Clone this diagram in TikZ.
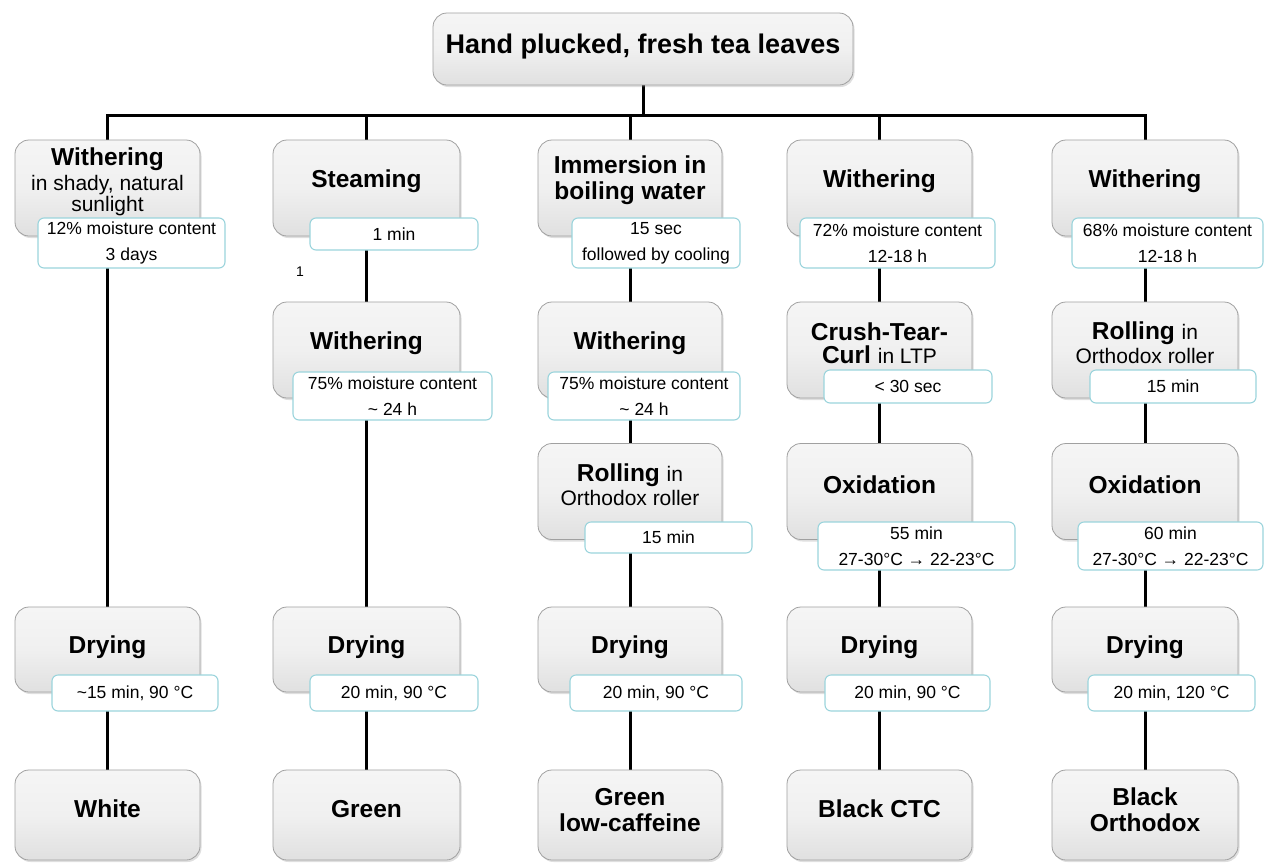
\documentclass[tikz,border=0pt]{standalone}
\usepackage{fontspec}
\setmainfont{Liberation Sans}
\usetikzlibrary{shadows,backgrounds}
\definecolor{boxborder}{RGB}{160,160,160}
\definecolor{boxtop}{RGB}{245,245,245}
\definecolor{boxmid}{RGB}{240,240,240}
\definecolor{boxbot}{RGB}{224,224,224}
\definecolor{lblborder}{RGB}{155,212,220}
\newcommand{\myrg}[1]{{\fontsize{21}{23}\selectfont\mdseries #1}}
\tikzset{
  mbox/.style={draw=boxborder, line width=0.8pt, rounded corners=14pt,
    top color=boxtop, bottom color=boxbot, middle color=boxmid,
    minimum width=185pt, minimum height=96pt, inner sep=0pt,
    drop shadow={shadow xshift=1.5pt, shadow yshift=-2pt, opacity=0.25}},
  ttl/.style={align=center, inner sep=0pt, font=\fontsize{24.5}{26}\selectfont\bfseries},
  lbox/.style={draw=lblborder, line width=1.1pt, fill=white, rounded corners=6pt,
    align=center, inner sep=0pt, font=\fontsize{17.5}{26}\selectfont},
  conn/.style={line width=3pt, black}
}
\begin{document}
\begin{tikzpicture}[x=1pt,y=-1pt]
\useasboundingbox (0,0) rectangle (1264,863);
% top
\node[mbox, minimum width=420pt, minimum height=72pt] (top) at (643,49) {};
\node[ttl, font=\fontsize{27}{29}\selectfont\bfseries] (ttop) at (643,47) {Hand plucked, fresh tea leaves};
\coordinate (hub) at (643,115);
% column 1
\node[mbox] (c1A) at (107.5,188) {};
\node[mbox, minimum height=85pt] (c1D) at (107.5,649.5) {};
\node[mbox, minimum height=90pt] (c1E) at (107.5,815) {};
% column 2
\node[mbox, minimum width=187pt] (c2A) at (366.5,188) {};
\node[mbox, minimum width=187pt] (c2B) at (366.5,350) {};
\node[mbox, minimum width=187pt, minimum height=85pt] (c2D) at (366.5,649.5) {};
\node[mbox, minimum width=187pt, minimum height=90pt] (c2E) at (366.5,815) {};
% column 3
\node[mbox, minimum width=184pt] (c3A) at (630,188) {};
\node[mbox, minimum width=184pt] (c3B) at (630,350) {};
\node[mbox, minimum width=184pt] (c3C) at (630,491.5) {};
\node[mbox, minimum width=184pt, minimum height=85pt] (c3D) at (630,649.5) {};
\node[mbox, minimum width=184pt, minimum height=90pt] (c3E) at (630,815) {};
% column 4
\node[mbox] (c4A) at (879.5,188) {};
\node[mbox] (c4B) at (879.5,350) {};
\node[mbox] (c4C) at (879.5,491.5) {};
\node[mbox, minimum height=85pt] (c4D) at (879.5,649.5) {};
\node[mbox, minimum height=90pt] (c4E) at (879.5,815) {};
% column 5
\node[mbox, minimum width=186pt] (c5A) at (1145,188) {};
\node[mbox, minimum width=186pt] (c5B) at (1145,350) {};
\node[mbox, minimum width=186pt] (c5C) at (1145,491.5) {};
\node[mbox, minimum width=186pt, minimum height=85pt] (c5D) at (1145,649.5) {};
\node[mbox, minimum width=186pt, minimum height=90pt] (c5E) at (1145,815) {};
% box texts
\node[ttl] (t1A) at (107.5,182) {Withering\\[-1pt]\myrg{in shady, natural}\\[-5pt]\myrg{sunlight}};
\node[ttl] (t1D) at (107.5,647) {Drying};
\node[ttl] (t1E) at (107.5,809) {White};
\node[ttl] (t2A) at (366.5,181) {Steaming};
\node[ttl] (t2B) at (366.5,343) {Withering};
\node[ttl] (t2D) at (366.5,647) {Drying};
\node[ttl] (t2E) at (366.5,809) {Green};
\node[ttl] (t3A) at (630,180) {Immersion in\\boiling water};
\node[ttl] (t3B) at (630,343) {Withering};
\node[ttl] (t3C) at (630,485) {Rolling \myrg{in}\\[-2pt]\myrg{Orthodox roller}};
\node[ttl] (t3D) at (630,647) {Drying};
\node[ttl] (t3E) at (630,810) {Green\\low-caffeine};
\node[ttl] (t4A) at (879.5,181) {Withering};
\node[ttl] (t4B) at (879.5,343) {Crush-Tear-\\[-3pt]Curl \myrg{in LTP}};
\node[ttl] (t4C) at (879.5,485) {Oxidation};
\node[ttl] (t4D) at (879.5,647) {Drying};
\node[ttl] (t4E) at (879.5,809) {Black CTC};
\node[ttl] (t5A) at (1145,181) {Withering};
\node[ttl] (t5B) at (1145,343) {Rolling \myrg{in}\\[-2pt]\myrg{Orthodox roller}};
\node[ttl] (t5C) at (1145,485) {Oxidation};
\node[ttl] (t5D) at (1145,647) {Drying};
\node[ttl] (t5E) at (1145,810) {Black\\Orthodox};
% labels
\node[lbox, minimum width=187pt, minimum height=50pt] (l1A) at (131.5,243) {12\% moisture content\\3 days};
\node[lbox, minimum width=168pt, minimum height=32pt] (l2A) at (394,234) {1 min};
\node[lbox, minimum width=168pt, minimum height=50pt] (l3A) at (656,243) {15 sec\\followed by cooling};
\node[lbox, minimum width=195pt, minimum height=50pt] (l4A) at (897.5,243) {72\% moisture content\\12-18 h};
\node[lbox, minimum width=191pt, minimum height=50pt] (l5A) at (1167.5,243) {68\% moisture content\\12-18 h};
\node[lbox, minimum width=199pt, minimum height=48pt] (l2B) at (392.5,396) {75\% moisture content\\\textasciitilde{} 24 h};
\node[lbox, minimum width=192pt, minimum height=48pt] (l3B) at (644,396) {75\% moisture content\\\textasciitilde{} 24 h};
\node[lbox, minimum width=168pt, minimum height=33pt] (l4B) at (908,386.5) {< 30 sec};
\node[lbox, minimum width=166pt, minimum height=33pt] (l5B) at (1173,386.5) {15 min};
\node[lbox, minimum width=167pt, minimum height=31pt] (l3C) at (668.5,537.5) {15 min};
\node[lbox, minimum width=197pt, minimum height=48pt] (l4C) at (916.5,546) {55 min\\27-30°C → 22-23°C};
\node[lbox, minimum width=185pt, minimum height=48pt] (l5C) at (1170.5,546) {60 min\\27-30°C → 22-23°C};
\node[lbox, minimum width=166pt, minimum height=36pt] (l1D) at (135,693) {\textasciitilde15 min, 90 °C};
\node[lbox, minimum width=168pt, minimum height=36pt] (l2D) at (394,693) {20 min, 90 °C};
\node[lbox, minimum width=172pt, minimum height=36pt] (l3D) at (656,693) {20 min, 90 °C};
\node[lbox, minimum width=165pt, minimum height=36pt] (l4D) at (907.5,693) {20 min, 90 °C};
\node[lbox, minimum width=167pt, minimum height=36pt] (l5D) at (1171.5,693) {20 min, 120 °C};
% stray label
\node[font=\fontsize{14}{16}\selectfont] (one) at (300,272) {1};
% connectors
\begin{scope}[on background layer]
\draw[conn] (top.south) -- (hub);
\draw[conn] (c1A.north) |- (hub) -| (c5A.north);
\draw[conn] (hub) -| (c2A.north);
\draw[conn] (hub) -| (c3A.north);
\draw[conn] (hub) -| (c4A.north);
\draw[conn] (c1A) -- (c1D) -- (c1E);
\draw[conn] (c2A) -- (c2B) -- (c2D) -- (c2E);
\draw[conn] (c3A) -- (c3B) -- (c3C) -- (c3D) -- (c3E);
\draw[conn] (c4A) -- (c4B) -- (c4C) -- (c4D) -- (c4E);
\draw[conn] (c5A) -- (c5B) -- (c5C) -- (c5D) -- (c5E);
\end{scope}
\end{tikzpicture}
\end{document}
